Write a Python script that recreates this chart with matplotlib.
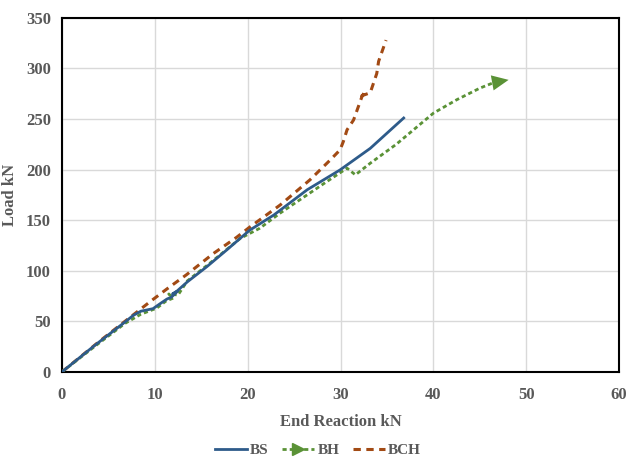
import matplotlib
matplotlib.use('Agg')
import numpy as np
import matplotlib.pyplot as plt
from matplotlib.lines import Line2D
from matplotlib.legend_handler import HandlerLine2D

# values (end reaction kN, load kN)
bs_x = [0, 3.5, 6.6, 7.7, 8.5, 9.8, 10.5, 11.3, 11.8, 12.4, 11.9, 12.4, 13.5, 15.6, 17.8, 20.2, 22.8, 26.4, 29.95, 33.2, 35.0, 36.8]
bs_y = [0, 26, 48, 56, 60, 62.5, 67, 72, 74, 79.4, 77, 80, 89, 104, 121, 140, 155, 180, 199.7, 221, 236, 251]

bh_x = [0, 3.5, 6.8, 8.5, 10.2, 11.2, 12.0, 11.5, 12.5, 13.5, 16.0, 19.2, 21.3, 23.5, 26.4, 28.5, 30.7, 31.6, 33.2, 36.0, 40.0, 42.5, 45.0, 46.5, 48.1]
bh_y = [0, 25, 48, 57, 63, 70, 73, 77, 76, 90, 108, 132, 142, 157, 175, 188, 201.4, 194.8, 206.3, 225, 255.8, 269, 280.5, 286, 288.7]

bch_x = [0, 4.0, 7.9, 9.5, 11.3, 13.4, 16.3, 18.8, 20.2, 23.5, 26.7, 28.9, 29.95, 30.3, 30.7, 31.4, 32.3, 32.6, 32.3, 33.2, 33.9, 34.1, 34.9]
bch_y = [0, 30, 58, 69.5, 82, 96, 117, 133, 143, 165, 189.8, 209.6, 219.5, 227.7, 239.3, 249, 272, 277, 273, 276, 295, 307, 328]

labels = ['BS', 'BH', 'BCH']
c_bs = '#2E5B8A'
c_bh = '#5A9236'
c_bch = '#A24A14'
grey = '#595959'

plt.rcParams['font.family'] = ['Liberation Serif', 'DejaVu Serif']

fig = plt.figure(figsize=(6.26, 4.58), dpi=100)
ax = fig.add_axes([0.099, 0.188, 0.890, 0.773])

ax.plot(bch_x, bch_y, color=c_bch, lw=2.2, dashes=(2.4, 1.8), zorder=3)
ax.plot(bh_x[:-1], bh_y[:-1], color=c_bh, lw=2.0, dashes=(1.5, 1.1), zorder=4)
ax.plot(bs_x, bs_y, color=c_bs, lw=2.0, zorder=5)
ax.annotate('', xy=(bh_x[-1], bh_y[-1]), xytext=(bh_x[-2], bh_y[-2]),
            arrowprops=dict(arrowstyle='-|>,head_length=1.2,head_width=0.55',
                            color=c_bh, lw=0, shrinkA=0, shrinkB=0), zorder=4)

ax.set_xlim(0, 60)
ax.set_ylim(0, 350)
ax.set_xticks(np.arange(0, 61, 10))
ax.set_yticks(np.arange(0, 351, 50))
ax.grid(True, color='#d9d9d9', lw=1)
ax.set_axisbelow(True)
ax.tick_params(length=0, labelsize=12, labelcolor=grey)
ax.tick_params(axis='x', pad=11)
ax.tick_params(axis='y', pad=8)
for lab in ax.get_xticklabels() + ax.get_yticklabels():
    lab.set_fontweight('bold')
for sp in ax.spines.values():
    sp.set_linewidth(1.5)
    sp.set_color('black')

ax.set_xlabel('End Reaction kN', fontsize=12, fontweight='bold', color=grey)
ax.xaxis.set_label_coords(0.5, -0.118)
ax.set_ylabel('Load kN', fontsize=12, fontweight='bold', color=grey)
ax.yaxis.set_label_coords(-0.079, 0.5)


class ArrowEndHandler(HandlerLine2D):
    def get_xdata(self, legend, xdescent, ydescent, width, height, fontsize):
        xdata = np.array([-xdescent, -xdescent + width])
        return xdata, np.array([-xdescent + width - 3])


h_bs = Line2D([], [], color=c_bs, lw=2.0)
h_bh = Line2D([], [], color=c_bh, lw=2.0, dashes=(1.5, 1.1), marker='>', markersize=8)
h_bch = Line2D([], [], color=c_bch, lw=2.2, dashes=(2.4, 1.8))
leg = fig.legend([h_bs, h_bh, h_bch], labels, loc='center', bbox_to_anchor=(0.508, 0.017),
                 ncol=3, frameon=False, handlelength=2.1, handletextpad=0.2,
                 columnspacing=0.9, prop={'weight': 'bold', 'size': 11},
                 handler_map={h_bh: ArrowEndHandler(numpoints=1)})
for t in leg.get_texts():
    t.set_color(grey)

fig.savefig('out.png', dpi=100)
